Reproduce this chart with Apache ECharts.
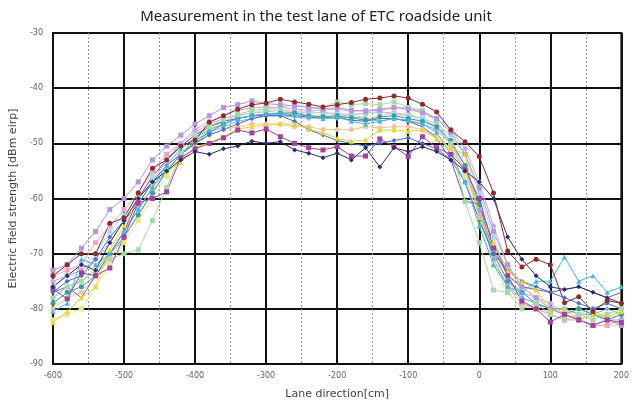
<!DOCTYPE html>
<html>
<head>
<meta charset="utf-8">
<script src="https://cdn.jsdelivr.net/npm/echarts@6/dist/echarts.min.js"></script>
<style>
  html, body { margin: 0; padding: 0; background: #fff; }
  #chart { width: 632px; height: 405px; }
</style>
</head>
<body>
<div id="chart"></div>
<script>
// lane position, cm (every 20 cm)
var xs = [-600,-580,-560,-540,-520,-500,-480,-460,-440,-420,-400,-380,-360,-340,-320,-300,-280,-260,-240,-220,-200,
          -180,-160,-140,-120,-100,-80,-60,-40,-20,0,20,40,60,80,100,120,140,160,180,200];

var brown = [-74,-72,-70,-70,-64.5,-63.5,-59,-54.5,-53,-50.5,-49.4,-46.2,-45,-43.8,-43,-42.7,-42,-42.5,-42.9,-43.4,-43,
             -42.6,-42,-41.8,-41.4,-41.8,-42.9,-44.3,-47.6,-49.7,-52.4,-59,-69.5,-72.4,-71,-72,-78.9,-77.8,-80.5,-78.5,-79];
var navy = [-76,-74,-72,-73,-68,-64,-60,-57,-55,-53,-51.5,-52,-51,-50.5,-49.6,-50,-49.7,-51.2,-51.8,-52.6,-51.8,
            -53,-50.8,-54.3,-50.8,-51.5,-50.6,-51.5,-53,-55,-57,-60,-67,-71,-74,-76,-76.5,-76,-77,-78,-79];
var magenta = [-76.4,-78.2,-73.5,-74,-72.6,-67,-60.8,-60,-58.8,-52.6,-51,-50,-49,-47.6,-48.1,-47.4,-48.8,-50,-50.8,-51.2,-50.6,
               -52.3,-52.3,-49.2,-50.6,-52.4,-48.8,-50.8,-52,-54.8,-60,-69,-74,-78.6,-80,-82.4,-81,-82,-83,-82,-82.5];
var yellow = [-82.5,-80.5,-78,-76,-69.3,-65,-60,-57,-55,-53.5,-50.6,-50,-48.8,-47.4,-47,-46.7,-46.5,-46.5,-47.4,-48.1,-49.1,
              -49.6,-49.4,-47.6,-47.6,-47.8,-47.6,-49.2,-50.8,-52,-63.5,-68,-73,-75,-76.6,-80.2,-80,-82,-81,-81.5,-80.5];
var green = [-78,-76,-75,-73,-71,-70,-69.3,-64,-58,-52,-49,-47,-45.5,-44.8,-44,-43.8,-43.5,-43,-43.5,-43.5,-42.5,
             -43,-42.8,-43,-42.5,-43.5,-44,-46,-50,-60.6,-68,-76.6,-77,-80,-79,-81,-82,-81,-82,-81,-80];
var cyan = [-80.5,-79,-71,-72,-70,-66,-62,-58,-54,-51,-49,-47.5,-46.5,-45.5,-45,-44.6,-44.5,-44.8,-45,-45.5,-45.2,
            -46,-46.5,-46,-45.5,-45.8,-46.5,-48,-52,-57,-65,-72,-76,-77,-75,-75,-70.6,-75,-74,-77,-76];
var blue = [-77,-75,-74,-71,-67,-64,-61,-57,-54,-52,-50,-48.5,-47.5,-46.5,-45.5,-45,-45,-46,-47.5,-48.5,-49.5,
            -50,-50.5,-50,-49.5,-49,-50,-51,-53,-57,-64,-70,-73,-75,-76,-77,-78,-79,-80,-79,-80];
var lavender = [-73,-72,-69,-66,-62,-60,-57,-53,-50.5,-48.5,-46.5,-45,-43.5,-43,-42.3,-42.8,-43,-43.2,-43.5,-43.8,-43.5,
                -44,-44.2,-44,-43.5,-43.8,-44.5,-45.5,-48,-52,-58,-66,-72,-76,-78,-80,-81,-82,-83,-82,-83];
var teal = [-79,-77,-76,-74,-70,-67,-63,-59,-55,-52,-49.5,-48,-46.5,-45.5,-45,-44.8,-44.5,-44.5,-45,-45.2,-45,
            -45.4,-45.8,-45.2,-45,-45.5,-46,-47,-49.5,-54,-61,-70,-75,-77,-79,-80,-81,-80,-81,-82,-81];
var lightCyan = [-76,-74,-73,-70,-66,-63,-60,-56,-53,-50.5,-48.5,-47,-46,-45,-44.5,-44,-44,-44.5,-44.2,-44.5,-44.8,
                 -45,-44.5,-44.3,-44.8,-45,-45.5,-46.5,-48.5,-52,-59,-67,-74,-78,-79,-80,-80,-81,-80,-82,-81];
var pink = [-74,-73,-72,-68,-65,-62,-59,-55,-52,-50,-48,-46.5,-45.5,-45,-44.5,-44.3,-44,-44.2,-44.5,-44.4,-44.6,
            -44.8,-44.5,-44.3,-44.5,-44.8,-45.5,-47,-50,-55,-63,-71,-76,-79,-80,-81,-82,-82,-83,-83,-82];
var lilac = [-75,-74,-73,-71,-68,-64,-61,-57,-53,-50,-47.5,-46,-45,-44,-43.6,-43.4,-43.5,-43.8,-44,-44,-43.8,
             -44.2,-44,-43.8,-43.5,-43.6,-44.2,-45.5,-47.5,-51,-57,-65,-72,-77,-78,-79,-81,-82,-81,-82,-82];
var peach = [-80,-78,-77,-74,-71,-67,-63,-59,-55,-52,-50,-48.5,-47.5,-47,-46.5,-46.5,-46.5,-47,-47,-47.5,-47.5,
             -47.5,-47,-47.2,-47,-47,-47.5,-48.5,-51,-55,-62,-70,-75,-78,-79,-80,-81,-80,-81,-81,-80];
var sky = [-78,-76,-75,-73,-70,-66,-62,-58,-55,-52,-50,-48,-47,-46,-45.5,-45,-45,-45.2,-45.5,-45.3,-45.5,
           -45.2,-45.5,-46,-45.5,-46,-46.5,-47.5,-50,-54,-62,-71,-76,-78,-79,-80,-80,-81,-81,-80,-81];
var violet = [-77,-76,-78,-74,-70,-66,-60,-56,-53,-50.5,-48.5,-47,-46,-45.5,-45,-45,-44.8,-45,-45.2,-45.5,-45.3,
              -45.8,-46,-45.5,-45.5,-46,-47,-49,-53,-60.5,-61,-68,-74,-76,-76.5,-77,-76.5,-76,-77,-78,-77];
var paleYellow = [-82,-81,-80,-76,-72,-68,-64,-60,-56,-52,-49.5,-47.5,-46,-45.5,-45,-44.8,-44.6,-44.8,-45,-45,-44.8,
                  -45,-45.3,-45,-44.6,-45,-45.8,-47,-50,-56,-64,-72,-77,-79,-80,-81,-82,-82,-83,-83,-83];

var runs = [
    { data: paleYellow, color: '#e6e68c', symbol: 'rect' },
    { data: peach, color: '#f0c49c', symbol: 'circle' },
    { data: pink, color: '#f0a4c4', symbol: 'rect' },
    { data: lightCyan, color: '#a4dcee', symbol: 'rect' },
    { data: lilac, color: '#c8a8e0', symbol: 'circle' },
    { data: sky, color: '#74b0e6', symbol: 'diamond' },
    { data: teal, color: '#3a9c9c', symbol: 'circle' },
    { data: violet, color: '#7858b0', symbol: 'none' },
    { data: blue, color: '#4470c8', symbol: 'diamond' },
    { data: cyan, color: '#44b8da', symbol: 'triangle' },
    { data: green, color: '#a8d8a4', symbol: 'rect' },
    { data: lavender, color: '#b496e0', symbol: 'rect' },
    { data: yellow, color: '#e8d624', symbol: 'triangle' },
    { data: magenta, color: '#a042a0', symbol: 'rect' },
    { data: navy, color: '#2c2c6c', symbol: 'diamond' },
    { data: brown, color: '#8c2c2c', symbol: 'circle' }
];

var series = runs.map(function (r, i) {
    return {
        type: 'line',
        name: 'run' + (i + 1),
        data: xs.map(function (x, k) { return [x, r.data[k]]; }),
        symbol: r.symbol,
        symbolSize: 5,
        showSymbol: r.symbol !== 'none',
        lineStyle: { width: 1, color: r.color },
        itemStyle: { color: r.color },
        animation: false
    };
});

var chart = echarts.init(document.getElementById('chart'));
chart.setOption({
    title: {
        text: 'Measurement in the test lane of ETC roadside unit',
        left: 'center',
        top: 4,
        textStyle: { fontFamily: 'Noto Sans', fontSize: 15, fontWeight: 'normal', color: '#222' }
    },
    grid: {
        left: 50, right: 10, top: 33, bottom: 41,
        show: true, borderColor: '#111', borderWidth: 2
    },
    xAxis: {
        type: 'value',
        min: -600, max: 200, interval: 100,
        name: 'Lane direction[cm]',
        nameLocation: 'middle',
        nameGap: 25,
        nameTextStyle: { fontFamily: 'DejaVu Sans', fontSize: 11, color: '#444' },
        axisLine: { show: false },
        axisTick: { show: false },
        axisLabel: { fontFamily: 'DejaVu Sans', fontSize: 8, color: '#666', margin: 8 },
        splitLine: { lineStyle: { color: '#111', width: 2 } },
        minorTick: { show: false, splitNumber: 2 },
        minorSplitLine: { show: true, lineStyle: { color: '#999', width: 1, type: [2, 2] } }
    },
    yAxis: {
        type: 'value',
        min: -90, max: -30, interval: 10,
        name: 'Electric field strength [dBm eirp]',
        nameLocation: 'middle',
        nameGap: 30,
        nameTextStyle: { fontFamily: 'DejaVu Sans', fontSize: 11, color: '#444' },
        axisLine: { show: false },
        axisTick: { show: false },
        axisLabel: { fontFamily: 'DejaVu Sans', fontSize: 8, color: '#666', margin: 10 },
        splitLine: { lineStyle: { color: '#111', width: 2 } }
    },
    series: series
});
</script>
</body>
</html>
